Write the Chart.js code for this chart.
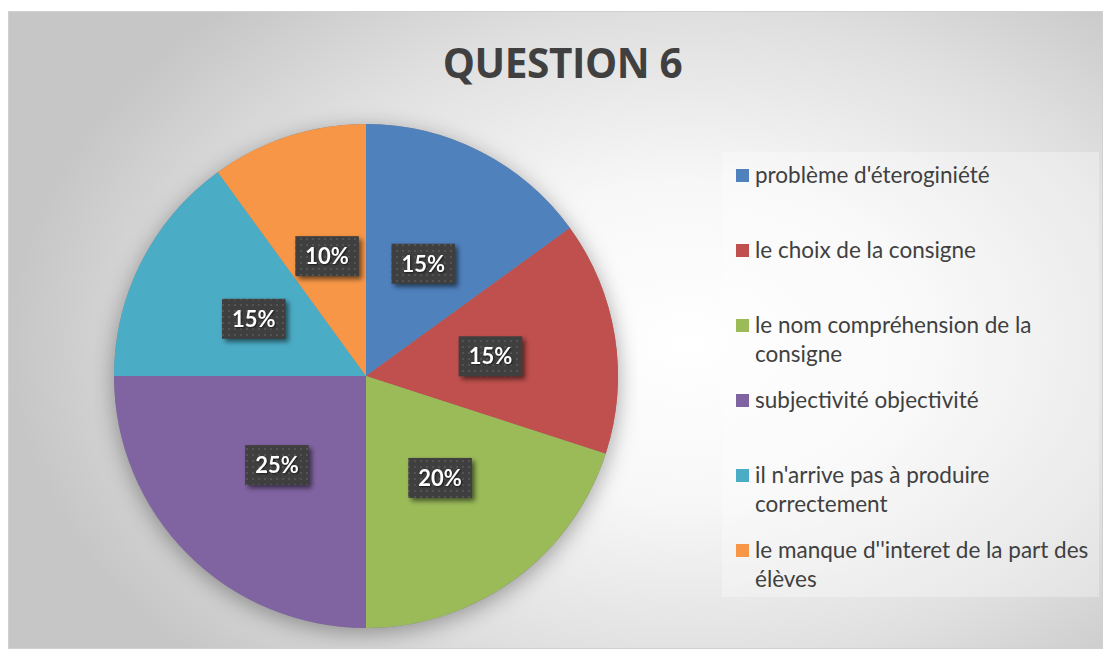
<!DOCTYPE html>
<html>
<head>
<meta charset="utf-8">
<script src="https://cdn.jsdelivr.net/npm/chart.js@4/dist/chart.umd.min.js"></script>
<style>
body{margin:0;width:1105px;height:649px;background:#fff;position:relative;overflow:hidden;font-family:Lato,"Open Sans",sans-serif;}
#cadre{position:absolute;left:8px;top:11px;width:1093px;height:636px;border:1px solid #d0d0d0;
  background:radial-gradient(ellipse 62% 72% at 62% 52%, #ffffff 0%, #f7f7f7 35%, #e0e0e0 70%, #c6c6c6 100%);}
#titre{position:absolute;left:0;width:1125px;top:35px;text-align:center;font-family:"Open Sans";font-weight:700;font-size:40.5px;color:#404040;letter-spacing:-0.4px;}
#graph{position:absolute;left:94px;top:104px;width:544px;height:544px;}
#legende{position:absolute;left:722px;top:152px;width:377px;height:445px;background:rgba(255,255,255,0.3);}
.item{position:absolute;left:14px;font-size:22.5px;color:#404040;line-height:29px;}
.item span.carre{position:absolute;left:0;top:9px;width:13px;height:13px;}
.item div{margin-left:19px;white-space:nowrap;}
</style>
</head>
<body>
<div id="cadre"></div>
<div id="titre">QUESTION 6</div>
<canvas id="graph" width="544" height="544"></canvas>
<div id="legende"></div>
<script>
/* DONNEES */
const categories = [
  ["problème d'éteroginiété"],
  ["le choix de la consigne"],
  ["le nom compréhension de la", "consigne"],
  ["subjectivité objectivité"],
  ["il n'arrive pas à produire", "correctement"],
  ["le manque d''interet de la part des", "élèves"]
];
const valeurs = [15, 15, 20, 25, 15, 10];
const couleurs = ['#4F81BD','#C0504D','#9BBB59','#8064A2','#4BACC6','#F79646'];

/* LEGENDE */
const legende = document.getElementById('legende');
categories.forEach((lignes,i)=>{
  const it = document.createElement('div');
  it.className = 'item';
  it.style.top = (8 + i*75) + 'px';
  it.innerHTML = '<span class="carre" style="background:'+couleurs[i]+'"></span><div>'+lignes.join('<br>')+'</div>';
  legende.appendChild(it);
});

/* MOTIF DES ETIQUETTES */
const motif = document.createElement('canvas');
motif.width = 6; motif.height = 6;
const mc = motif.getContext('2d');
mc.fillStyle = '#3f3f3f'; mc.fillRect(0,0,6,6);
mc.fillStyle = '#535353'; mc.fillRect(2,2,2,2);

/* OMBRE DU CAMEMBERT */
const ombre = {
  id:'ombre',
  beforeDatasetsDraw(chart){
    const arc = chart.getDatasetMeta(0).data[0];
    if(!arc) return;
    const c = chart.ctx;
    c.save();
    c.shadowColor = 'rgba(0,0,0,0.35)';
    c.shadowBlur = 22;
    c.shadowOffsetY = 5;
    c.fillStyle = '#888';
    c.beginPath();
    c.arc(arc.x, arc.y, arc.outerRadius, 0, Math.PI*2);
    c.fill();
    c.restore();
  }
};

/* ETIQUETTES */
const etiquettes = {
  id:'etiquettes',
  afterDatasetsDraw(chart){
    const c = chart.ctx;
    const total = valeurs.reduce((a,b)=>a+b,0);
    chart.getDatasetMeta(0).data.forEach((arc,i)=>{
      const p = arc.tooltipPosition();
      const txt = Math.round(valeurs[i]/total*100) + '%';
      c.save();
      c.font = 'bold 22px Lato';
      const w = c.measureText(txt).width + 20, h = 40;
      c.shadowColor = 'rgba(0,0,0,0.55)';
      c.shadowBlur = 5; c.shadowOffsetX = 3; c.shadowOffsetY = 3;
      c.fillStyle = c.createPattern(motif,'repeat');
      c.fillRect(p.x - w/2, p.y - h/2, w, h);
      c.shadowColor = 'rgba(0,0,0,0.6)';
      c.shadowBlur = 2; c.shadowOffsetX = 1; c.shadowOffsetY = 1;
      c.fillStyle = '#ffffff';
      c.textAlign = 'center'; c.textBaseline = 'middle';
      c.fillText(txt, p.x, p.y + 1);
      c.restore();
    });
  }
};

new Chart(document.getElementById('graph'),{
  type:'pie',
  data:{
    labels:categories,
    datasets:[{data:valeurs, backgroundColor:couleurs, borderWidth:0}]
  },
  options:{
    responsive:false,
    animation:false,
    layout:{padding:20},
    plugins:{legend:{display:false}, tooltip:{enabled:false}}
  },
  plugins:[ombre, etiquettes]
});
</script>
</body>
</html>
